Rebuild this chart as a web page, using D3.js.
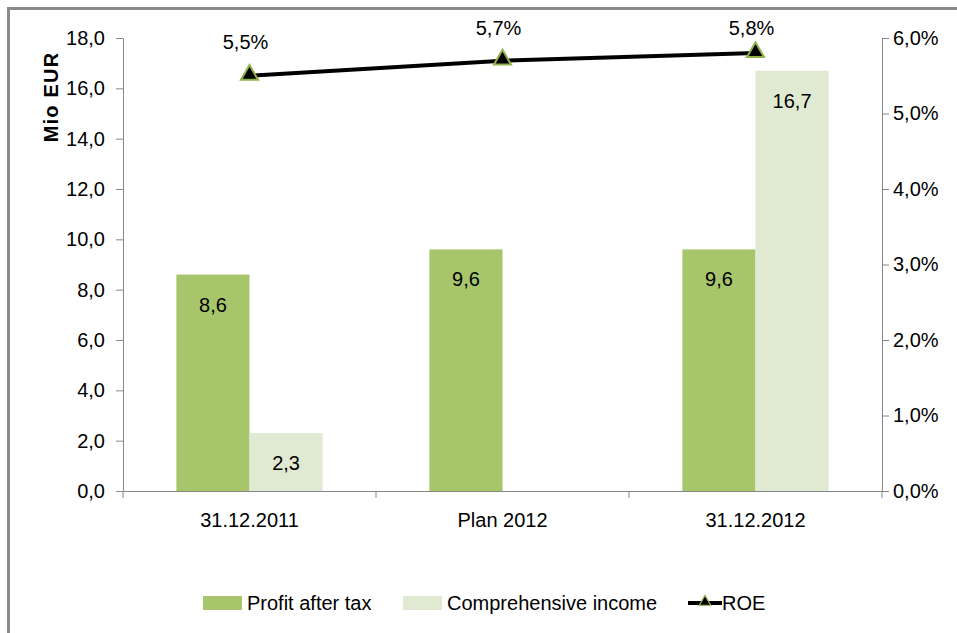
<!DOCTYPE html>
<html lang="en">
<head>
    <meta charset="UTF-8">
    <title>Profit and ROE</title>
    <style>
        body { margin: 0; background: #fff; }
        .chart svg { display: block; font-family: "Liberation Sans", Arial, sans-serif; }
        .axis path, .axis line { stroke: #868686; }
        .axis text { font-size: 20px; fill: #000; font-family: "Liberation Sans", Arial, sans-serif; }
    </style>
</head>
<body>
    <div class="chart"></div>
    <script src="https://cdn.jsdelivr.net/npm/d3@7"></script>
    <script>
    (function()
    {
        "use strict";

        var categories = ["31.12.2011", "Plan 2012", "31.12.2012"];
        var profitAfterTax = [8.6, 9.6, 9.6];
        var comprehensiveIncome = [2.3, null, 16.7];
        var roe = [5.5, 5.7, 5.8];
        var leftTicks = [0, 2, 4, 6, 8, 10, 12, 14, 16, 18];
        var rightTicks = [0, 1, 2, 3, 4, 5, 6];
        var seriesNames = ["Profit after tax", "Comprehensive income", "ROE"];

        var colors = {
            profit: "#a7c66b",
            income: "#e0ead2",
            line: "#000000",
            marker: "#8fb04a"
        };

        var container = { width: 957, height: 633 };
        var margin = { top: 38, right: 75, bottom: 142, left: 123 };
        var width = container.width - margin.left - margin.right,
            height = container.height - margin.top - margin.bottom;

        function fmt(v) { return d3.format(".1f")(v).replace(".", ","); }

        var svg = d3.select(".chart").append("svg")
            .attr("width", container.width)
            .attr("height", container.height);

        // outer frame (left and top only)
        svg.append("path")
            .attr("d", "M8.5,633 V8.5 H957")
            .attr("fill", "none")
            .attr("stroke", "#8a8a8a")
            .attr("stroke-width", 3);

        var g = svg.append("g")
            .attr("transform", "translate(" + margin.left + "," + margin.top + ")");

        // scales
        var x = d3.scaleBand()
            .domain(categories)
            .range([0, width])
            .paddingInner(0)
            .paddingOuter(0);

        var bw = x.bandwidth() * 0.289;
        var x1 = d3.scaleBand()
            .domain(["profit", "income"])
            .range([x.bandwidth() / 2 - bw, x.bandwidth() / 2 + bw]);

        var y = d3.scaleLinear().domain([0, 18]).range([height, 0]);
        var y2 = d3.scaleLinear().domain([0, 6]).range([height, 0]);

        // bars
        var rows = categories.map(function(c, i) {
            return { cat: c, profit: profitAfterTax[i], income: comprehensiveIncome[i] };
        });

        var groups = g.selectAll("g.group")
            .data(rows)
            .enter().append("g")
            .attr("class", "group")
            .attr("transform", function(d) { return "translate(" + x(d.cat) + ",0)"; });

        var bars = groups.selectAll("g.bar")
            .data(function(d) {
                return ["profit", "income"]
                    .filter(function(k) { return d[k] != null; })
                    .map(function(k) { return { key: k, value: d[k] }; });
            })
            .enter().append("g")
            .attr("class", "bar");

        bars.append("rect")
            .attr("x", function(d) { return x1(d.key); })
            .attr("width", x1.bandwidth())
            .attr("y", function(d) { return y(d.value); })
            .attr("height", function(d) { return height - y(d.value); })
            .style("fill", function(d) { return colors[d.key]; });

        bars.append("text")
            .attr("x", function(d) { return x1(d.key) + x1.bandwidth() / 2; })
            .attr("y", function(d) { return y(d.value) + 30; })
            .attr("dy", "0.35em")
            .attr("text-anchor", "middle")
            .style("font-size", "20px")
            .text(function(d) { return fmt(d.value); });

        // axes
        var xAxis = g.append("g")
            .attr("class", "axis")
            .attr("transform", "translate(0," + height + ")")
            .call(d3.axisBottom(x).tickSize(0).tickSizeOuter(0).tickPadding(22));

        xAxis.selectAll(".tick line").remove();
        xAxis.selectAll("line.sep")
            .data(d3.range(categories.length + 1))
            .enter().append("line")
            .attr("class", "sep")
            .attr("x1", function(i) { return i * x.step(); })
            .attr("x2", function(i) { return i * x.step(); })
            .attr("y1", 0)
            .attr("y2", 7);

        g.append("g")
            .attr("class", "axis")
            .call(d3.axisLeft(y).tickValues(leftTicks).tickFormat(fmt).tickSize(7).tickSizeOuter(0).tickPadding(11));

        g.append("g")
            .attr("class", "axis")
            .attr("transform", "translate(" + width + ",0)")
            .call(d3.axisRight(y2).tickValues(rightTicks).tickFormat(function(v) { return fmt(v) + "%"; })
                .tickSize(7).tickSizeOuter(0).tickPadding(4));

        // y axis title
        svg.append("text")
            .attr("transform", "translate(58," + (margin.top + 59) + ") rotate(-90)")
            .attr("text-anchor", "middle")
            .style("font-size", "20px")
            .style("font-weight", "bold")
            .style("letter-spacing", "1.2px")
            .text("Mio EUR");

        // ROE line
        var line = d3.line()
            .x(function(d, i) { return x(categories[i]) + x.bandwidth() / 2; })
            .y(function(d) { return y2(d); });

        g.append("path")
            .datum(roe)
            .attr("d", line)
            .attr("fill", "none")
            .attr("stroke", colors.line)
            .attr("stroke-width", 4);

        var tri = d3.symbol().type(d3.symbolTriangle).size(125);

        g.selectAll("path.marker")
            .data(roe)
            .enter().append("path")
            .attr("class", "marker")
            .attr("d", tri)
            .attr("transform", function(d, i) {
                return "translate(" + (x(categories[i]) + x.bandwidth() / 2) + "," + (y2(d) - 1) + ")";
            })
            .attr("fill", "#000")
            .attr("stroke", colors.marker)
            .attr("stroke-width", 2);

        g.selectAll("text.roe")
            .data(roe)
            .enter().append("text")
            .attr("class", "roe")
            .attr("x", function(d, i) { return x(categories[i]) + x.bandwidth() / 2 - 4; })
            .attr("y", function(d) { return Math.max(-10, y2(d) - 34); })
            .attr("dy", "0.35em")
            .attr("text-anchor", "middle")
            .style("font-size", "20px")
            .text(function(d) { return fmt(d) + "%"; });

        // legend
        var legend = svg.append("g")
            .attr("transform", "translate(203,603)");

        var items = [
            { name: seriesNames[0], x: 0, type: "rect", color: colors.profit },
            { name: seriesNames[1], x: 200, type: "rect", color: colors.income },
            { name: seriesNames[2], x: 485, type: "line" }
        ];

        var li = legend.selectAll("g.item")
            .data(items)
            .enter().append("g")
            .attr("class", "item")
            .attr("transform", function(d) { return "translate(" + d.x + ",0)"; });

        li.filter(function(d) { return d.type === "rect"; })
            .append("rect")
            .attr("x", 0).attr("y", -7)
            .attr("width", 39).attr("height", 14)
            .style("fill", function(d) { return d.color; });

        var lineItem = li.filter(function(d) { return d.type === "line"; });
        lineItem.append("line")
            .attr("x1", 0).attr("x2", 34)
            .attr("y1", 0).attr("y2", 0)
            .attr("stroke", colors.line)
            .attr("stroke-width", 4);
        lineItem.append("path")
            .attr("d", d3.symbol().type(d3.symbolTriangle).size(55))
            .attr("transform", "translate(17,-1)")
            .attr("fill", "#000")
            .attr("stroke", colors.marker)
            .attr("stroke-width", 1.2);

        li.append("text")
            .attr("x", function(d) { return d.type === "line" ? 34 : 44; })
            .attr("y", 0)
            .attr("dy", "0.35em")
            .style("font-size", "20px")
            .text(function(d) { return d.name; });
    })();
    </script>
</body>
</html>
